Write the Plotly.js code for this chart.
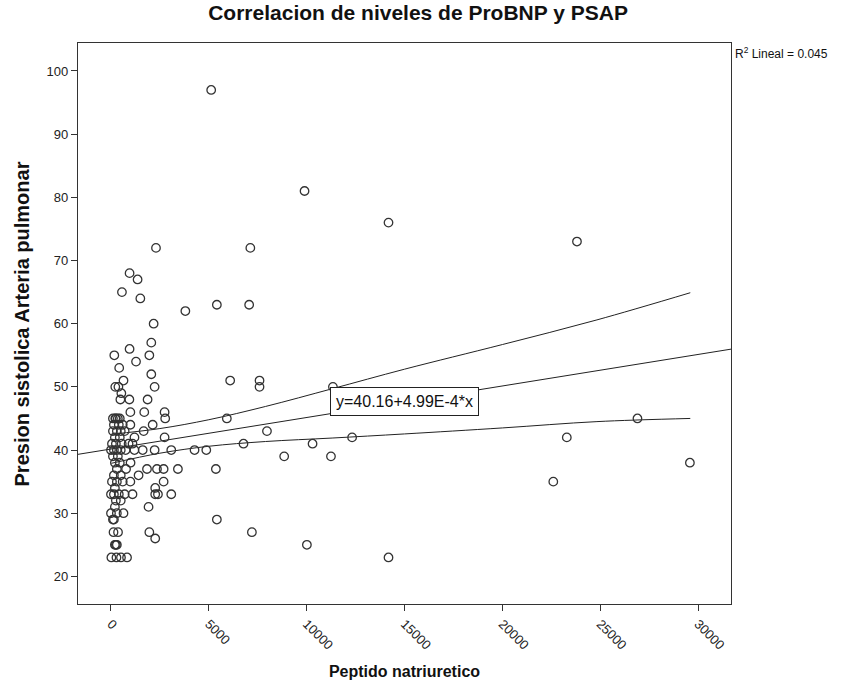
<!DOCTYPE html>
<html>
<head>
<meta charset="utf-8">
<script src="https://cdn.plot.ly/plotly-3.0.1.min.js"></script>
<style>html,body{margin:0;padding:0;background:#fff;}#chart{width:848px;height:687px;}</style>
</head>
<body>
<div id="chart"></div>
<script>
// Scatter data: Peptido natriuretico (x) vs Presion sistolica Arteria pulmonar (y)
const probnp = [
 5120, 9890, 14180, 23810, 2300, 7120, 950, 1360, 560, 1500, 3800, 5410, 7060, 2180, 2060, 950, 170, 1960, 1280, 420,
 2060, 640, 6090, 7590, 7590, 11340, 2230, 220, 380, 530, 480, 940, 1870, 990, 1700, 2740, 2770, 220, 5920, 26900,
 2130, 990, 1670, 7970, 2740, 12320, 23290, 6770, 10300, 900, 2230, 3080, 4270, 4870, 1620, 8850, 11240, 1840, 2350, 2690,
 3420, 5360, 770, 1410, 990, 2690, 22600, 2260, 1100, 2260, 2400, 3080, 1920, 640, 5410, 7200, 1960, 2260, 10010, 14180,
 29580, 130, 360, 250, 20, 280, 510, 820,
 100, 250, 350, 450, 150, 400, 600, 100, 300, 500, 700, 200, 450, 1200, 50, 250, 550, 1100,
 0, 150, 300, 500, 750, 1200, 100, 350, 200, 450, 1000, 300, 150, 500, 50, 300, 600, 200,
 0, 150, 400, 700, 250, 500, 200, 0, 300, 100, 150, 200, 300
];
const psap = [
 97, 81, 76, 73, 72, 72, 68, 67, 65, 64, 62, 63, 63, 60, 57, 56, 55, 55, 54, 53,
 52, 51, 51, 51, 50, 50, 50, 50, 50, 49, 48, 48, 48, 46, 46, 46, 45, 45, 45, 45,
 44, 44, 43, 43, 42, 42, 42, 41, 41, 41, 40, 40, 40, 40, 40, 39, 39, 37, 37, 37,
 37, 37, 37, 36, 35, 35, 35, 34, 33, 33, 33, 33, 31, 30, 29, 27, 27, 26, 25, 23,
 38, 27, 27, 25, 23, 23, 23, 23,
 45, 45, 45, 45, 44, 44, 44, 43, 43, 43, 43, 42, 42, 42, 41, 41, 41, 41,
 40, 40, 40, 40, 40, 40, 39, 39, 38, 38, 38, 37, 36, 36, 35, 35, 35, 34,
 33, 33, 33, 33, 32, 32, 31, 30, 30, 29, 29, 25, 25
];
// Fit line read at the axis ends
const fitX = [-1685, 31680];
const fitY = [39.32, 55.97];
// Confidence band curves
const ciX = [20, 2500, 5000, 7900, 11300, 15000, 20000, 24830, 29600];
const ciUpper = [42.5, 43.4, 44.8, 46.9, 49.7, 52.8, 56.7, 60.6, 64.9];
const ciLower = [37.9, 39.5, 40.6, 41.35, 41.9, 42.55, 43.5, 44.5, 45.0];
// Axis ticks
const xTicks = [0, 5000, 10000, 15000, 20000, 25000, 30000];
const yTicks = [20, 30, 40, 50, 60, 70, 80, 90, 100];

const lineStyle = {color: '#222', width: 1};
const traces = [
  {x: fitX, y: fitY, mode: 'lines', line: lineStyle, hoverinfo: 'skip', showlegend: false},
  {x: ciX, y: ciUpper, mode: 'lines', line: Object.assign({shape: 'spline'}, lineStyle), hoverinfo: 'skip', showlegend: false},
  {x: ciX, y: ciLower, mode: 'lines', line: Object.assign({shape: 'spline'}, lineStyle), hoverinfo: 'skip', showlegend: false},
  {x: probnp, y: psap, mode: 'markers', type: 'scatter', showlegend: false,
   marker: {symbol: 'circle-open', size: 8.5, color: '#333', line: {width: 1.3, color: '#333'}}}
];

const font = {family: 'Liberation Sans, Arial, sans-serif', color: '#111'};
const layout = {
  width: 848, height: 687,
  margin: {l: 78, r: 117, t: 43, b: 83},
  paper_bgcolor: '#fff', plot_bgcolor: '#fff',
  font: Object.assign({size: 13}, font),
  title: {text: '<b>Correlacion de niveles de ProBNP y PSAP</b>', x: 0.493, xref: 'container', y: 0.992, yanchor: 'top',
          font: Object.assign({size: 21}, font)},
  xaxis: {
    range: [-1685, 31680], tickvals: xTicks, ticktext: xTicks.map(String), tickangle: 45,
    showgrid: false, zeroline: false, showline: true, mirror: true, linecolor: '#333', linewidth: 1.2,
    ticks: 'outside', ticklen: 6, tickcolor: '#333', tickfont: {size: 13, color: '#222'},
    title: {text: '<b>Peptido natriuretico</b>', font: Object.assign({size: 16}, font), standoff: 14}
  },
  yaxis: {
    range: [15.63, 104.43], tickvals: yTicks, ticktext: yTicks.map(String),
    showgrid: false, zeroline: false, showline: true, mirror: true, linecolor: '#333', linewidth: 1.2,
    ticks: 'outside', ticklen: 6, tickcolor: '#333', tickfont: {size: 13, color: '#222'}
  },
  annotations: [
    {xref: 'paper', yref: 'paper', x: -0.0858, y: 0.5, xanchor: 'center', yanchor: 'middle', textangle: -90,
     showarrow: false, text: '<b>Presion sistolica Arteria pulmonar</b>', font: Object.assign({size: 20}, font)},
    {xref: 'paper', yref: 'paper', x: 1.003, y: 1.0, xanchor: 'left', yanchor: 'top', showarrow: false,
     text: 'R<sup>2</sup> Lineal = 0.045', font: Object.assign({size: 12}, font)},
    {x: 15000, y: 47.65, xref: 'x', yref: 'y', showarrow: false, text: 'y=40.16+4.99E-4*x',
     font: Object.assign({size: 16}, font), bgcolor: '#fff', bordercolor: '#222', borderwidth: 1, borderpad: 5}
  ]
};
Plotly.newPlot('chart', traces, layout, {displayModeBar: false, staticPlot: true});
</script>
</body>
</html>
